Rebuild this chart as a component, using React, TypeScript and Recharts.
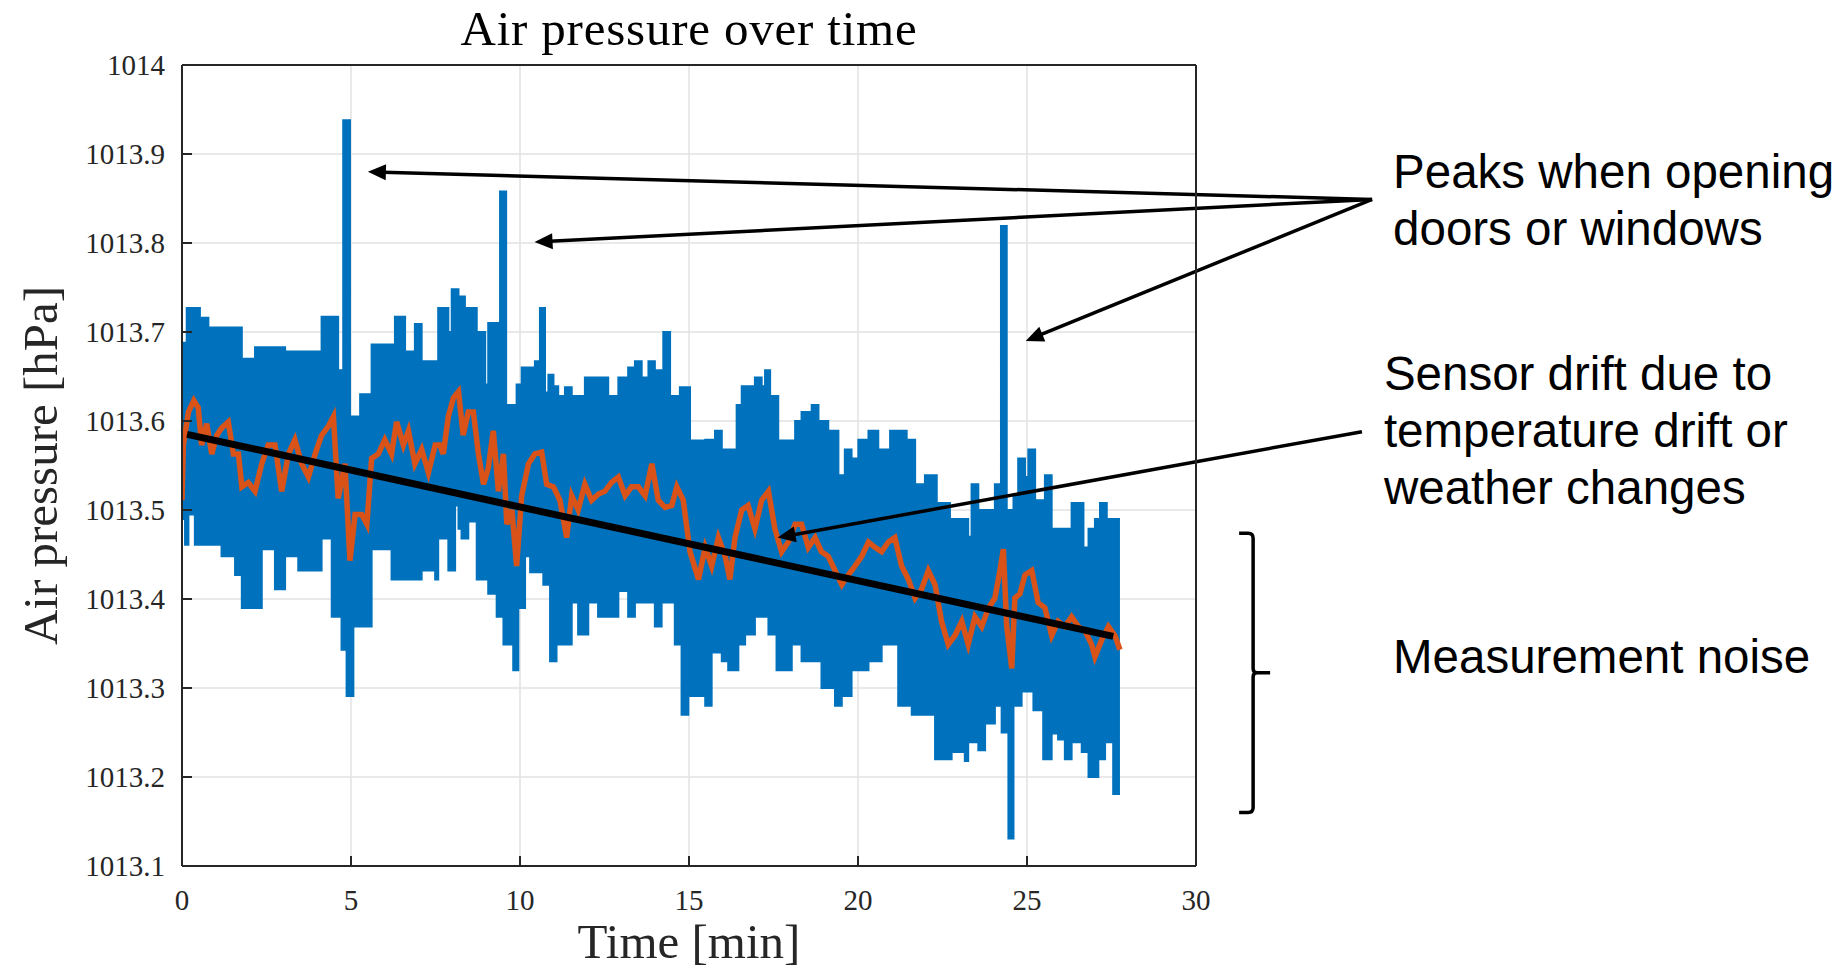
import React from "react";
import { ComposedChart, Area, Line, XAxis, YAxis, CartesianGrid, ReferenceLine, ReferenceDot } from "recharts";

const xTicks = [0, 5, 10, 15, 20, 25, 30];
const yTicks = [1013.1, 1013.2, 1013.3, 1013.4, 1013.5, 1013.6, 1013.7, 1013.8, 1013.9, 1014];

// raw sensor signal, drawn as its (step) envelope: time [min], upper and lower edge [hPa]
const noiseTime = [
    0, 0.09, 0.14, 0.19, 0.38, 0.53, 0.78, 1.17, 1.57, 1.77,
    2.16, 2.36, 2.75, 3.05, 3.44, 4.13, 4.43, 4.62, 4.72, 4.77,
    4.87, 4.97, 5.07, 5.27, 5.61, 6.2, 6.3, 6.6, 6.89, 7.09,
    7.49, 7.58, 7.88, 7.98, 8.08, 8.18, 8.27, 8.37, 8.47, 8.72,
    8.97, 9.06, 9.31, 9.41, 9.51, 9.59, 9.8, 9.9, 9.95, 10.05,
    10.15, 10.3, 10.44, 10.59, 10.69, 10.74, 10.84, 10.89, 10.99, 11.08,
    11.13, 11.33, 11.53, 11.72, 11.92, 12.02, 12.31, 12.61, 12.91, 13.2,
    13.4, 13.6, 13.8, 13.99, 14.19, 14.24, 14.44, 14.58, 14.73, 14.78,
    14.98,
    15.03, 15.48, 15.67, 15.77, 15.97, 16.16, 16.41, 16.46, 16.56, 16.66,
    16.95, 17.15, 17.25, 17.35, 17.4, 17.59, 17.64, 18.04, 18.14, 18.33,
    18.63, 18.83, 18.92, 19.12, 19.32, 19.42, 19.52, 19.61, 19.81, 20.01,
    20.31, 20.6, 20.7, 20.95, 21.19, 21.44, 21.59, 21.69, 21.98, 22.28,
    22.33, 22.72, 22.77,
    23.16, 23.26, 23.36, 23.56, 23.76, 24.05, 24.23, 24.25, 24.4, 24.45,
    24.6, 24.74, 24.84, 24.94, 25.04, 25.19, 25.24, 25.48, 25.53, 25.73,
    25.92, 26.12, 26.32, 26.62, 26.67, 26.82, 27.01, 27.11, 27.16, 27.31,
    27.36, 27.55, 27.75,
];
const noiseHigh = [
    1013.688, 1013.688, 1013.727, 1013.727, 1013.727, 1013.716, 1013.705, 1013.705, 1013.705, 1013.67,
    1013.683, 1013.683, 1013.683, 1013.678, 1013.678, 1013.717, 1013.717, 1013.657, 1013.657, 1013.938,
    1013.938, 1013.605, 1013.605, 1013.63, 1013.686, 1013.686, 1013.717, 1013.678, 1013.709, 1013.667,
    1013.667, 1013.727, 1013.7, 1013.748, 1013.748, 1013.74, 1013.74, 1013.727, 1013.727, 1013.7,
    1013.641, 1013.71, 1013.71, 1013.858, 1013.858, 1013.618, 1013.618, 1013.641, 1013.641, 1013.66,
    1013.66, 1013.66, 1013.667, 1013.727, 1013.727, 1013.632, 1013.652, 1013.652, 1013.639, 1013.639,
    1013.628, 1013.638, 1013.628, 1013.628, 1013.649, 1013.649, 1013.649, 1013.628, 1013.649, 1013.66,
    1013.667, 1013.649, 1013.667, 1013.657, 1013.657, 1013.7, 1013.628, 1013.628, 1013.638, 1013.638,
    1013.638,
    1013.578, 1013.579, 1013.579, 1013.589, 1013.568, 1013.568, 1013.618, 1013.618, 1013.639, 1013.639,
    1013.649, 1013.639, 1013.657, 1013.657, 1013.628, 1013.628, 1013.578, 1013.578, 1013.6, 1013.61,
    1013.618, 1013.6, 1013.6, 1013.589, 1013.589, 1013.539, 1013.539, 1013.568, 1013.558, 1013.579,
    1013.589, 1013.568, 1013.568, 1013.589, 1013.589, 1013.579, 1013.579, 1013.529, 1013.539, 1013.539,
    1013.508, 1013.49, 1013.49,
    1013.49, 1013.47, 1013.529, 1013.5, 1013.5, 1013.529, 1013.819, 1013.819, 1013.5, 1013.5,
    1013.518, 1013.558, 1013.558, 1013.537, 1013.568, 1013.568, 1013.511, 1013.511, 1013.539, 1013.479,
    1013.479, 1013.479, 1013.508, 1013.508, 1013.458, 1013.479, 1013.49, 1013.49, 1013.508, 1013.508,
    1013.49, 1013.49, 1013.49,
];
const noiseLow = [
    1013.49, 1013.461, 1013.461, 1013.495, 1013.461, 1013.461, 1013.461, 1013.448, 1013.427, 1013.39,
    1013.39, 1013.456, 1013.411, 1013.448, 1013.432, 1013.468, 1013.38, 1013.38, 1013.343, 1013.343,
    1013.291, 1013.291, 1013.369, 1013.369, 1013.456, 1013.422, 1013.422, 1013.422, 1013.422, 1013.432,
    1013.422, 1013.468, 1013.432, 1013.432, 1013.505, 1013.479, 1013.468, 1013.468, 1013.487, 1013.422,
    1013.422, 1013.406, 1013.38, 1013.38, 1013.349, 1013.349, 1013.32, 1013.32, 1013.39, 1013.39,
    1013.448, 1013.43, 1013.43, 1013.43, 1013.416, 1013.416, 1013.416, 1013.33, 1013.33, 1013.349,
    1013.349, 1013.349, 1013.396, 1013.36, 1013.36, 1013.396, 1013.38, 1013.38, 1013.409, 1013.38,
    1013.396, 1013.396, 1013.396, 1013.369, 1013.396, 1013.396, 1013.396, 1013.349, 1013.349, 1013.27,
    1013.291,
    1013.291, 1013.28, 1013.34, 1013.34, 1013.33, 1013.32, 1013.32, 1013.349, 1013.349, 1013.36,
    1013.38, 1013.38, 1013.38, 1013.36, 1013.36, 1013.32, 1013.32, 1013.349, 1013.349, 1013.33,
    1013.33, 1013.33, 1013.3, 1013.3, 1013.28, 1013.28, 1013.291, 1013.291, 1013.32, 1013.32,
    1013.33, 1013.33, 1013.349, 1013.349, 1013.28, 1013.28, 1013.27, 1013.27, 1013.27, 1013.22,
    1013.22, 1013.22, 1013.228,
    1013.218, 1013.239, 1013.239, 1013.23, 1013.26, 1013.28, 1013.28, 1013.25, 1013.25, 1013.131,
    1013.28, 1013.28, 1013.296, 1013.296, 1013.296, 1013.275, 1013.275, 1013.22, 1013.22, 1013.249,
    1013.242, 1013.22, 1013.239, 1013.228, 1013.228, 1013.2, 1013.2, 1013.22, 1013.22, 1013.239,
    1013.239, 1013.181, 1013.181,
];

// moving average (orange)
const avgTime = [
    0, 0.04, 0.19, 0.35, 0.48, 0.58, 0.73, 0.88, 1.03, 1.17,
    1.37, 1.52, 1.67, 1.77, 1.96, 2.16, 2.36, 2.55, 2.75, 2.95,
    3.15, 3.34, 3.54, 3.74, 3.94, 4.13, 4.33, 4.48, 4.62, 4.82,
    4.97, 5.12, 5.32, 5.47, 5.61, 5.81, 6.0, 6.2, 6.35, 6.55,
    6.7, 6.89, 7.09, 7.29, 7.49, 7.63, 7.73, 7.88, 8.03, 8.18,
    8.32, 8.47, 8.62, 8.77, 8.92, 9.06, 9.21, 9.36, 9.51, 9.61,
    9.76, 9.9, 10.05, 10.25, 10.44, 10.64, 10.79, 10.99, 11.18, 11.38,
    11.53, 11.72, 11.92, 12.12, 12.32, 12.51, 12.71, 12.91, 13.11, 13.3,
    13.5, 13.7, 13.9, 14.09, 14.29, 14.49, 14.64, 14.83, 15.03, 15.28,
    15.48, 15.67, 15.87, 16.07, 16.21, 16.36, 16.56, 16.75, 16.95, 17.15,
    17.35, 17.54, 17.74, 17.94, 18.14, 18.33, 18.53, 18.73, 18.92, 19.12,
    19.32, 19.52, 19.71, 19.91, 20.11, 20.31, 20.5, 20.7, 20.9, 21.09,
    21.29, 21.49, 21.69, 21.88, 22.08, 22.28, 22.47, 22.67, 22.87, 23.07,
    23.26, 23.46, 23.66, 23.86, 24.05, 24.2, 24.3, 24.4, 24.55, 24.64,
    24.79, 24.94, 25.14, 25.33, 25.53, 25.73, 25.92, 26.12, 26.32, 26.52,
    26.72, 26.91, 27.01, 27.21, 27.41, 27.6, 27.75,
];
const avgValue = [
    1013.511, 1013.573, 1013.61, 1013.623, 1013.615, 1013.573, 1013.597, 1013.563, 1013.584, 1013.592,
    1013.599, 1013.563, 1013.563, 1013.526, 1013.531, 1013.521, 1013.552, 1013.573, 1013.573, 1013.521,
    1013.563, 1013.579, 1013.552, 1013.537, 1013.563, 1013.584, 1013.594, 1013.605, 1013.513, 1013.552,
    1013.443, 1013.495, 1013.495, 1013.484, 1013.558, 1013.563, 1013.579, 1013.563, 1013.599, 1013.573,
    1013.589, 1013.552, 1013.568, 1013.542, 1013.573, 1013.573, 1013.563, 1013.605, 1013.626, 1013.633,
    1013.584, 1013.61, 1013.61, 1013.563, 1013.529, 1013.547, 1013.589, 1013.521, 1013.563, 1013.484,
    1013.5, 1013.437, 1013.516, 1013.552, 1013.563, 1013.565, 1013.529, 1013.526, 1013.511, 1013.469,
    1013.516, 1013.5, 1013.529, 1013.511, 1013.518, 1013.521, 1013.531, 1013.537, 1013.516, 1013.526,
    1013.526, 1013.516, 1013.552, 1013.511, 1013.503, 1013.505, 1013.526, 1013.511, 1013.453, 1013.422,
    1013.458, 1013.437, 1013.469, 1013.448, 1013.422, 1013.469, 1013.5, 1013.505, 1013.479, 1013.511,
    1013.521, 1013.479, 1013.453, 1013.464, 1013.484, 1013.484, 1013.458, 1013.469, 1013.453, 1013.448,
    1013.432, 1013.416, 1013.427, 1013.437, 1013.448, 1013.464, 1013.458, 1013.453, 1013.464, 1013.469,
    1013.437, 1013.422, 1013.401, 1013.411, 1013.432, 1013.416, 1013.375, 1013.349, 1013.359, 1013.375,
    1013.349, 1013.38, 1013.369, 1013.39, 1013.401, 1013.432, 1013.456, 1013.369, 1013.322, 1013.401,
    1013.406, 1013.427, 1013.432, 1013.396, 1013.39, 1013.359, 1013.375, 1013.369, 1013.38, 1013.369,
    1013.364, 1013.349, 1013.335, 1013.354, 1013.369, 1013.359, 1013.343,
];

// linear drift fit (black)
const fitTime = [0.15, 27.55];
const fitValue = [1013.585, 1013.358];

// title and annotations, in data units (they sit outside the axes)
const title = { t: 15, v: 1014.0225, text: "Air pressure over time" };
const peakFrom = { t: 35.21, v: 1013.849 };
const peakTips = [
    { t: 5.5, v: 1013.88 },
    { t: 10.43, v: 1013.801 },
    { t: 24.96, v: 1013.69 },
];
const driftFrom = { t: 34.91, v: 1013.588 };
const driftTip = { t: 17.62, v: 1013.469 };
const braceAt = { t: 31.69, top: 1013.474, bottom: 1013.16 };
const notes = [
    { t: 35.83, v: 1013.862, lines: ["Peaks when opening", "doors or windows"] },
    { t: 35.56, v: 1013.635, lines: ["Sensor drift due to", "temperature drift or", "weather changes"] },
    { t: 35.83, v: 1013.317, lines: ["Measurement noise"] },
];

const noiseData = noiseTime.map((t, i) => ({ t, range: [noiseLow[i], noiseHigh[i]] }));
const avgData = avgTime.map((t, i) => ({ t, v: avgValue[i] }));
const fitData = fitTime.map((t, i) => ({ t, v: fitValue[i] }));

const BLUE = "#0072BD";
const ORANGE = "#D95319";
const AXIS = "#262626";
const SERIF = "'Liberation Serif', 'Times New Roman', serif";
const SANS = "'Liberation Sans', Arial, sans-serif";

const Arrow = (p: any) => {
    const { x1, y1, x2, y2 } = p;
    const dx = x2 - x1;
    const dy = y2 - y1;
    const len = Math.hypot(dx, dy) || 1;
    const ux = dx / len;
    const uy = dy / len;
    const headL = 18;
    const headW = 8;
    const bx = x2 - ux * headL;
    const by = y2 - uy * headL;
    return (
        <g>
            <line x1={x1} y1={y1} x2={bx + ux * 3} y2={by + uy * 3} stroke="#000" strokeWidth={3.5} />
            <polygon
                points={`${x2},${y2} ${bx - uy * headW},${by + ux * headW} ${bx + uy * headW},${by - ux * headW}`}
                fill="#000"
            />
        </g>
    );
};

const Brace = (p: any) => {
    const x = p.x1;
    const top = Math.min(p.y1, p.y2);
    const bot = Math.max(p.y1, p.y2);
    const mid = (top + bot) / 2;
    const d =
        `M ${x - 14} ${top} L ${x - 5} ${top} Q ${x} ${top} ${x} ${top + 5} L ${x} ${mid - 4} ` +
        `Q ${x} ${mid} ${x + 4} ${mid} L ${x + 17} ${mid} M ${x + 4} ${mid} Q ${x} ${mid} ${x} ${mid + 4} ` +
        `L ${x} ${bot - 5} Q ${x} ${bot} ${x - 5} ${bot} L ${x - 14} ${bot}`;
    return <path d={d} fill="none" stroke="#000" strokeWidth={3.5} />;
};

const noteShape = (lines: string[]) => (p: any) => (
    <text x={p.cx} y={p.cy} fontFamily={SANS} fontSize={47.5} fill="#000">
        {lines.map((s, i) => (
            <tspan key={i} x={p.cx} dy={i === 0 ? 0 : 57}>{s}</tspan>
        ))}
    </text>
);

const titleShape = (p: any) => (
    <text x={p.cx} y={p.cy} textAnchor="middle" fontFamily={SERIF} fontSize={49} letterSpacing={0.8} fill="#000">
        {title.text}
    </text>
);

const fmtY = (v: number) => String(Number(v.toFixed(1)));

export default function App() {
    return (
        <div style={{ position: "absolute", left: 0, top: 0, width: 1842, height: 970, background: "#fff" }}>
            <ComposedChart width={1842} height={970} margin={{ top: 64, right: 645, bottom: 0, left: 0 }}>
                <CartesianGrid stroke="#e2e2e2" strokeWidth={1.5} />
                <XAxis
                    dataKey="t"
                    type="number"
                    domain={[0, 30]}
                    ticks={xTicks}
                    interval={0}
                    allowDataOverflow
                    height={104}
                    tickSize={-10}
                    tickMargin={33}
                    axisLine={{ stroke: AXIS, strokeWidth: 2 }}
                    tickLine={{ stroke: AXIS, strokeWidth: 2 }}
                    tick={{ fontFamily: SERIF, fontSize: 29, fill: AXIS }}
                    label={{ value: "Time [min]", position: "insideBottom", offset: 12, style: { fontFamily: SERIF, fontSize: 49, fill: AXIS } }}
                />
                <XAxis
                    xAxisId="top"
                    orientation="top"
                    dataKey="t"
                    type="number"
                    domain={[0, 30]}
                    ticks={xTicks}
                    interval={0}
                    allowDataOverflow
                    height={1}
                    tickSize={-10}
                    tick={false}
                    axisLine={{ stroke: AXIS, strokeWidth: 2 }}
                    tickLine={{ stroke: AXIS, strokeWidth: 2 }}
                />
                <YAxis
                    type="number"
                    domain={[1013.1, 1014]}
                    ticks={yTicks}
                    interval={0}
                    allowDataOverflow
                    width={182}
                    tickSize={-10}
                    tickMargin={27}
                    tickFormatter={fmtY}
                    axisLine={{ stroke: AXIS, strokeWidth: 2 }}
                    tickLine={{ stroke: AXIS, strokeWidth: 2 }}
                    tick={{ fontFamily: SERIF, fontSize: 29, fill: AXIS }}
                    label={{ value: "Air pressure [hPa]", angle: -90, position: "insideLeft", offset: 40, textAnchor: "middle", style: { fontFamily: SERIF, fontSize: 49, fill: AXIS } }}
                />
                <YAxis
                    yAxisId="right"
                    orientation="right"
                    type="number"
                    domain={[1013.1, 1014]}
                    ticks={yTicks}
                    interval={0}
                    allowDataOverflow
                    width={1}
                    tickSize={-10}
                    tick={false}
                    axisLine={{ stroke: AXIS, strokeWidth: 2 }}
                    tickLine={{ stroke: AXIS, strokeWidth: 2 }}
                />

                <Area
                    data={noiseData}
                    dataKey="range"
                    type="stepAfter"
                    fill={BLUE}
                    fillOpacity={1}
                    stroke={BLUE}
                    strokeWidth={2}
                    dot={false}
                    activeDot={false}
                    isAnimationActive={false}
                />
                <Line data={avgData} dataKey="v" type="linear" stroke={ORANGE} strokeWidth={5.5} strokeLinejoin="miter" dot={false} activeDot={false} isAnimationActive={false} />
                {/* fit line on the box axes, same domains as the main ones */}
                <Line data={fitData} dataKey="v" xAxisId="top" yAxisId="right" type="linear" stroke="#000" strokeWidth={7} dot={false} activeDot={false} isAnimationActive={false} />

                <ReferenceDot x={title.t} y={title.v} r={0} ifOverflow="visible" shape={titleShape} />
                {peakTips.map((tip, i) => (
                    <ReferenceLine
                        key={`peak${i}`}
                        segment={[{ x: peakFrom.t, y: peakFrom.v }, { x: tip.t, y: tip.v }]}
                        ifOverflow="visible"
                        shape={Arrow}
                    />
                ))}
                <ReferenceLine
                    segment={[{ x: driftFrom.t, y: driftFrom.v }, { x: driftTip.t, y: driftTip.v }]}
                    ifOverflow="visible"
                    shape={Arrow}
                />
                <ReferenceLine
                    segment={[{ x: braceAt.t, y: braceAt.top }, { x: braceAt.t, y: braceAt.bottom }]}
                    ifOverflow="visible"
                    shape={Brace}
                />
                {notes.map((n, i) => (
                    <ReferenceDot key={`note${i}`} x={n.t} y={n.v} r={0} ifOverflow="visible" shape={noteShape(n.lines)} />
                ))}
            </ComposedChart>
        </div>
    );
}
